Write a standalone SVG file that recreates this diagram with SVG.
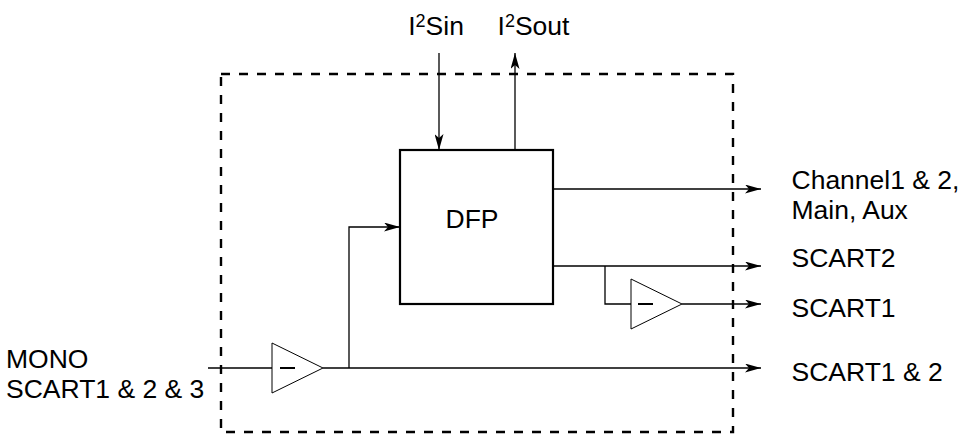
<svg xmlns="http://www.w3.org/2000/svg" width="960" height="435" viewBox="0 0 960 435">
<style>
text{font-family:"Liberation Sans",Arial,sans-serif;font-size:26.5px;fill:#000}
.sup{font-size:18px}
.ln{fill:none;stroke:#000;stroke-width:1.3}
.amp{fill:#fff;stroke:#000;stroke-width:1}
</style>
<defs>
<marker id="ah" viewBox="0 0 16 9" refX="16" refY="4.5" markerWidth="16" markerHeight="9" markerUnits="userSpaceOnUse" orient="auto">
<path d="M0,0 L16,4.5 L0,9 L4,4.5 Z" fill="#000"/>
</marker>
</defs>
<rect id="boundary" x="221" y="74" width="512" height="358" fill="none" stroke="#000" stroke-width="2.4" stroke-dasharray="9,9"/>
<g id="connectors">
<line class="ln" x1="439" y1="53" x2="439" y2="150" marker-end="url(#ah)"/>
<line class="ln" x1="515" y1="150" x2="515" y2="53" marker-end="url(#ah)"/>
<polyline class="ln" points="349,368 349,227 400,227" marker-end="url(#ah)"/>
<line class="ln" x1="553" y1="189" x2="761" y2="189" marker-end="url(#ah)"/>
<line class="ln" x1="553" y1="266" x2="761" y2="266" marker-end="url(#ah)"/>
<polyline class="ln" points="605,266 605,304 631,304"/>
<line class="ln" x1="682" y1="304" x2="761" y2="304" marker-end="url(#ah)"/>
<line class="ln" x1="208" y1="368" x2="272" y2="368"/>
<line class="ln" x1="323" y1="368" x2="761" y2="368" marker-end="url(#ah)"/>
</g>
<g id="dfp">
<rect x="400" y="150" width="153" height="154" fill="#fff" stroke="#000" stroke-width="2.2"/>
<text x="445.5" y="228">DFP</text>
</g>
<g id="amp1">
<polygon class="amp" points="631,279 682,304 631,329"/>
<line x1="638" y1="304" x2="653" y2="304" stroke="#000" stroke-width="2"/>
</g>
<g id="amp2">
<polygon class="amp" points="272,343 323,368 272,393"/>
<line x1="280" y1="368" x2="295" y2="368" stroke="#000" stroke-width="2"/>
</g>
<g id="labels">
<text x="408.2" y="35">I<tspan class="sup" dy="-8">2</tspan><tspan dy="8">Sin</tspan></text>
<text x="497.5" y="35">I<tspan class="sup" dy="-8">2</tspan><tspan dy="8">Sout</tspan></text>
<text x="791.5" y="189">Channel1 &amp; 2,</text>
<text x="791.5" y="219">Main, Aux</text>
<text x="791.5" y="266.5">SCART2</text>
<text x="791.5" y="316.5">SCART1</text>
<text x="791.5" y="381">SCART1 &amp; 2</text>
<text x="6" y="367.7">MONO</text>
<text x="6" y="397.7">SCART1 &amp; 2 &amp; 3</text>
</g>
</svg>
